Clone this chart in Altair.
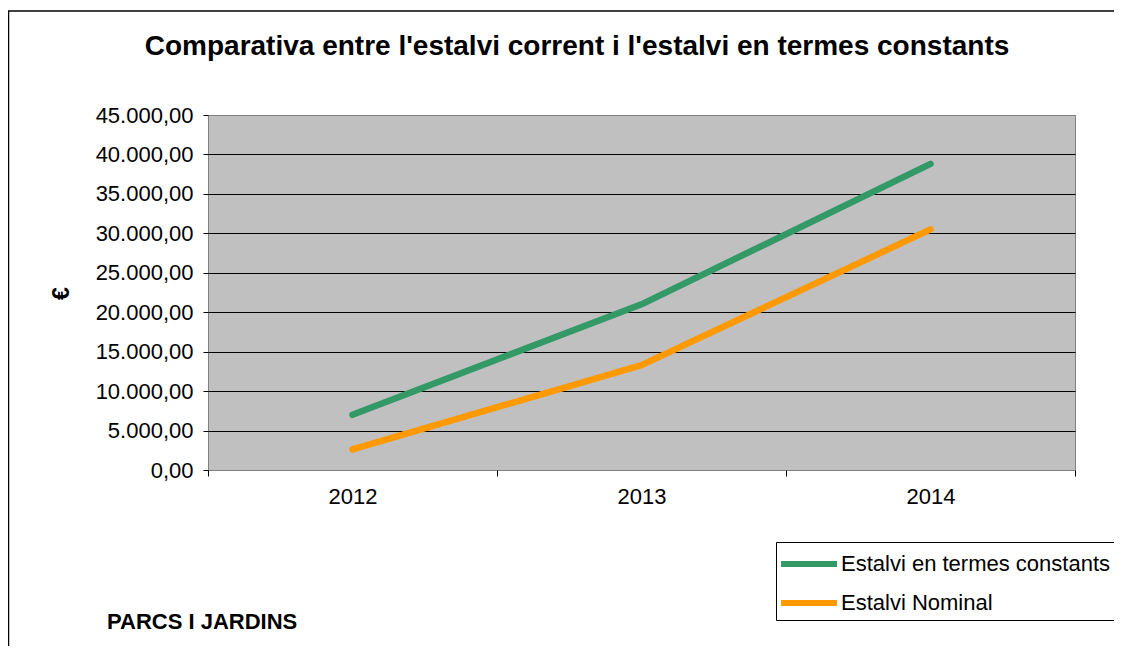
import altair as alt
import pandas as pd

years = ["2012", "2013", "2014"]
series_names = ["Estalvi en termes constants", "Estalvi Nominal"]
constants_vals = [7000, 21000, 38800]
nominal_vals = [2600, 13300, 30500]
series_colors = ["#339966", "#FF9900"]
y_ticks = [0, 5000, 10000, 15000, 20000, 25000, 30000, 35000, 40000, 45000]
title_text = "Comparativa entre l'estalvi corrent i l'estalvi en termes constants"
footer_text = "PARCS I JARDINS"

rows = []
for y, v in zip(years, constants_vals):
    rows.append({"year": y, "series": series_names[0], "value": v})
for y, v in zip(years, nominal_vals):
    rows.append({"year": y, "series": series_names[1], "value": v})
df = pd.DataFrame(rows)

FONT = "Liberation Sans"

label_expr = ("replace(replace(replace(format(datum.value, ',.2f'), regexp(',', 'g'), '#'),"
              " regexp('[.]', 'g'), ','), regexp('#', 'g'), '.')")

lines = alt.Chart(df).mark_line(strokeWidth=6.5, strokeCap="round", strokeJoin="round").encode(
    x=alt.X("year:O",
            scale=alt.Scale(type="band", paddingInner=0, paddingOuter=0),
            bandPosition=0.5,
            axis=alt.Axis(title=None, labelAngle=0, tickBand="extent", domain=False,
                          ticks=True, tickColor="black", tickSize=6, grid=False,
                          labelFont=FONT, labelFontSize=22, labelColor="black",
                          labelPadding=10)),
    y=alt.Y("value:Q",
            scale=alt.Scale(domain=[0, 45000], nice=False),
            axis=alt.Axis(values=y_ticks, labelExpr=label_expr, title="€",
                          grid=True,
                          gridColor={"condition": {"test": "datum.value == 0 || datum.value == 45000",
                                                   "value": "#808080"},
                                     "value": "black"},
                          gridWidth=1, domain=False,
                          tickColor="black", tickSize=5, labelPadding=10,
                          labelFont=FONT, labelFontSize=22, labelColor="black",
                          titleFont=FONT, titleFontSize=23, titleFontWeight="bold",
                          titleColor="black", titleAngle=270, titleX=-147, titleY=178,
                          titleAlign="center", titleBaseline="middle")),
    color=alt.Color("series:N",
                    scale=alt.Scale(domain=series_names, range=series_colors),
                    legend=alt.Legend(title=None, orient="none", legendX=568, legendY=427,
                                      padding=5, strokeColor="black", fillColor="white",
                                      symbolType="M-1.21,0H2.79", symbolSize=784,
                                      symbolStrokeWidth=6, labelFont=FONT,
                                      labelFontSize=22, labelColor="black", labelLimit=500,
                                      rowPadding=10, labelOffset=26)),
)

title = alt.Chart(pd.DataFrame({"t": [title_text]})).mark_text(
    font=FONT, fontSize=28, fontWeight="bold", align="center", baseline="middle", color="black"
).encode(text="t:N", x=alt.value(369), y=alt.value(-68))

footer = alt.Chart(pd.DataFrame({"t": [footer_text]})).mark_text(
    font=FONT, fontSize=22, fontWeight="bold", align="left", baseline="middle", color="black"
).encode(text="t:N", x=alt.value(-101), y=alt.value(507))

frame_top = alt.Chart(pd.DataFrame({"a": [0]})).mark_rule(color="black", strokeWidth=1.5).encode(
    x=alt.value(-200), x2=alt.value(906), y=alt.value(-104))
frame_left = alt.Chart(pd.DataFrame({"a": [0]})).mark_rule(color="black", strokeWidth=1.5).encode(
    x=alt.value(-199.5), y=alt.value(-104), y2=alt.value(531))

chart = alt.layer(lines, title, footer, frame_top, frame_left).properties(
    width=867, height=355,
    autosize=alt.AutoSizeParams(type="none"),
    padding={"left": 200, "top": 107, "right": 39, "bottom": 176},
).configure_view(fill="#C0C0C0", stroke="#808080", strokeWidth=1)

chart.save("out.html", embed_options={"renderer": "svg", "actions": False})
